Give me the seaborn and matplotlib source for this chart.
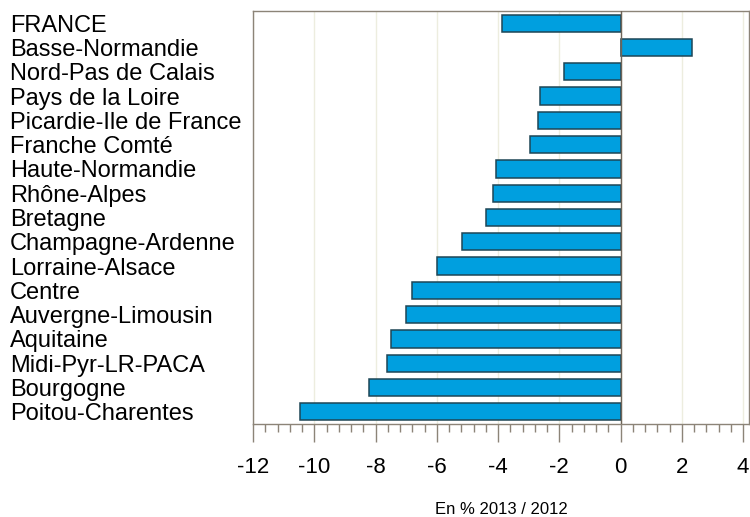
import matplotlib
matplotlib.use("Agg")
import matplotlib.pyplot as plt
import seaborn as sns
import pandas as pd
from matplotlib.ticker import MultipleLocator

# regions, top to bottom
regions = ["FRANCE", "Basse-Normandie", "Nord-Pas de Calais", "Pays de la Loire",
           "Picardie-Ile de France", "Franche Comté", "Haute-Normandie", "Rhône-Alpes",
           "Bretagne", "Champagne-Ardenne", "Lorraine-Alsace", "Centre",
           "Auvergne-Limousin", "Aquitaine", "Midi-Pyr-LR-PACA", "Bourgogne",
           "Poitou-Charentes"]
# variation in % 2013 / 2012
values = [-3.87, 2.33, -1.84, -2.64, -2.71, -2.97, -4.08, -4.17, -4.40, -5.18,
          -6.00, -6.81, -6.99, -7.49, -7.64, -8.21, -10.47]
xticks = [-12, -10, -8, -6, -4, -2, 0, 2, 4]

df = pd.DataFrame({"region": regions, "value": values})

sns.set_style("white")
plt.rcParams["font.family"] = ["Liberation Sans", "DejaVu Sans"]
plt.rcParams["axes.unicode_minus"] = False
plt.rcParams["text.color"] = "black"
plt.rcParams["xtick.labelcolor"] = "black"
plt.rcParams["ytick.labelcolor"] = "black"

fig = plt.figure(figsize=(7.5, 5.17), dpi=100)
ax = fig.add_axes([253 / 750, 1 - 424 / 517, 496 / 750, 413 / 517])

frame = "#8c8478"
for x in xticks:
    ax.axvline(x, color="#ededdf", lw=1, zorder=0)

sns.barplot(data=df, x="value", y="region", orient="h", color="#009fdf",
            edgecolor="#1e4656", linewidth=1.1, width=0.71, saturation=1, ax=ax,
            zorder=2)
ax.axvline(0, color="#6e6458", lw=1, zorder=3)

ax.set_xlim(-12.0, 4.19)
ax.set_ylim(16.5, -0.5)
ax.set_xticks(xticks)
ax.xaxis.set_minor_locator(MultipleLocator(0.4))
ax.tick_params(axis="x", which="major", direction="out", length=13, width=1,
               color=frame, labelsize=16, pad=11, bottom=True)
ax.tick_params(axis="x", which="minor", direction="out", length=6, width=1,
               color=frame, bottom=True)
ax.tick_params(axis="y", length=0, labelsize=17, pad=175)
for lab in ax.get_yticklabels():
    lab.set_horizontalalignment("left")

for s in ax.spines.values():
    s.set_color(frame)
    s.set_linewidth(1)
    s.set_visible(True)

ax.set_ylabel("")
ax.set_xlabel("")
fig.text(501 / 750, 3 / 517, "En % 2013 / 2012", fontsize=12,
         ha="center", va="baseline")

fig.savefig("out.png", dpi=100)
